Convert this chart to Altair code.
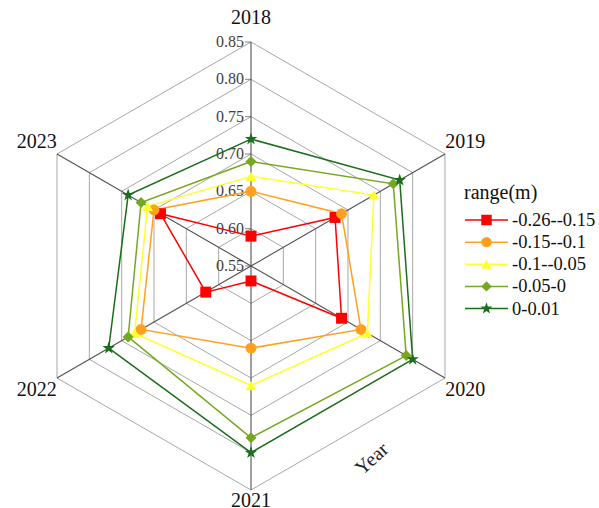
import altair as alt
import pandas as pd

# ---- data -------------------------------------------------------------
years = ["2018", "2019", "2020", "2021", "2022", "2023"]
series_names = ["-0.26--0.15", "-0.15--0.1", "-0.1--0.05", "-0.05-0", "0-0.01"]

range_1 = [0.59, 0.68, 0.69, 0.57, 0.62, 0.69]
range_2 = [0.65, 0.69, 0.72, 0.66, 0.72, 0.70]
range_3 = [0.67, 0.74, 0.73, 0.71, 0.73, 0.71]
range_4 = [0.69, 0.77, 0.79, 0.78, 0.74, 0.72]
range_5 = [0.72, 0.78, 0.80, 0.80, 0.77, 0.74]
series_values = [range_1, range_2, range_3, range_4, range_5]

ticks = [0.55, 0.60, 0.65, 0.70, 0.75, 0.80, 0.85]
tick_labels = ["0.55", "0.60", "0.65", "0.70", "0.75", "0.80", "0.85"]

colors = ["#ff0000", "#ffa11f", "#ffff2e", "#76a81e", "#1b6e1b"]
STAR = ("M0,-1.2L0.27,-0.37L1.14,-0.37L0.44,0.14L0.7,0.97L0,0.46"
        "L-0.7,0.97L-0.44,0.14L-1.14,-0.37L-0.27,-0.37Z")
shapes = ["square", "circle", "triangle-up", "diamond", STAR]

# ---- layout -----------------------------------------------------------
W, H = 599, 508
CX, CY, R = 251, 266, 224
R_MIN, R_MAX = ticks[0], ticks[-1]
FONT = "Liberation Serif"

xs = alt.Scale(domain=[-CX / R, (W - CX) / R], nice=False, zero=False)
ys = alt.Scale(domain=[-(H - CY) / R, CY / R], nice=False, zero=False)
X = alt.X("px:Q", scale=xs, axis=None)
Y = alt.Y("py:Q", scale=ys, axis=None)
color_scale = alt.Scale(domain=series_names, range=colors)
shape_scale = alt.Scale(domain=series_names, range=shapes)


def polar(chart):
    """Turn (k = spoke index, v = value) into cartesian px/py."""
    return chart.transform_calculate(
        ang="datum.k * PI / 3",
        rr=f"(datum.v - {R_MIN}) / ({R_MAX} - {R_MIN})",
    ).transform_calculate(
        px="datum.rr * sin(datum.ang)",
        py="datum.rr * cos(datum.ang)",
    )


# series rows, closed back to the first spoke
rows = []
for name, vals in zip(series_names, series_values):
    for k in range(len(years) + 1):
        rows.append({"series": name, "k": k, "v": vals[k % len(years)]})
series_df = pd.DataFrame(rows)

# hexagonal grid rings
grid_df = pd.DataFrame(
    [{"ring": t, "k": k, "v": t} for t in ticks[1:] for k in range(len(years) + 1)]
)
spoke_df = pd.DataFrame([{"k": k, "v": R_MAX, "year": y} for k, y in enumerate(years)])
tick_df = pd.DataFrame({"k": 0, "v": ticks, "label": tick_labels})
legend_df = pd.DataFrame({"series": series_names})

grid = polar(alt.Chart(grid_df)).mark_line(
    color="#a8a8a8", strokeWidth=1
).encode(x=X, y=Y, detail="ring:N", order="k:Q")

spokes = polar(alt.Chart(spoke_df)).transform_calculate(
    x0="0", y0="0"
).mark_rule(color="#505050", strokeWidth=1.1).encode(
    x=X, y=Y, x2="x0:Q", y2="y0:Q"
)

tick_marks = polar(alt.Chart(tick_df)).mark_tick(
    orient="horizontal", size=6, thickness=1, color="#505050", xOffset=-3
).encode(x=X, y=Y)

tick_text = polar(alt.Chart(tick_df)).mark_text(
    align="right", baseline="middle", dx=-7, fontSize=16, font=FONT, color="#404040"
).encode(x=X, y=Y, text="label:N")

year_text = alt.Chart(spoke_df).transform_calculate(
    ang="datum.k * PI / 3",
    lr="datum.year == '2021' ? 1.05 : 1.105",
).transform_calculate(
    px="datum.lr * sin(datum.ang)",
    py="datum.lr * cos(datum.ang)",
).mark_text(
    align="center", baseline="middle", fontSize=20, font=FONT, color="#111111"
).encode(x=X, y=Y, text="year:N")

axis_title = alt.Chart(legend_df.head(1)).mark_text(
    text="Year", angle=318, fontSize=20, font=FONT, color="#222222",
    align="center", baseline="middle"
).encode(x=alt.value(372), y=alt.value(459))

lines = polar(alt.Chart(series_df)).mark_line(strokeWidth=1.5).encode(
    x=X, y=Y, order="k:Q",
    color=alt.Color("series:N", scale=color_scale, legend=None),
)

points = polar(alt.Chart(series_df)).transform_filter(
    f"datum.k < {len(years)}"
).mark_point(filled=True, opacity=1, size=120).encode(
    x=X, y=Y,
    color=alt.Color("series:N", scale=color_scale, legend=None),
    shape=alt.Shape("series:N", scale=shape_scale, legend=None),
)

# ---- legend -----------------------------------------------------------
LY = alt.Y("series:N", axis=None,
           scale=alt.Scale(type="point", domain=series_names, range=[220, 308.5], padding=0))

leg_title = alt.Chart(legend_df.head(1)).mark_text(
    text="range(m)", align="left", baseline="middle", fontSize=20, font=FONT, color="#111111"
).encode(x=alt.value(464), y=alt.value(193))

leg_rule = alt.Chart(legend_df).mark_rule(strokeWidth=1.5).encode(
    x=alt.value(465), x2=alt.value(508), y=LY,
    color=alt.Color("series:N", scale=color_scale, legend=None),
)
leg_point = alt.Chart(legend_df).mark_point(filled=True, opacity=1, size=110).encode(
    x=alt.value(486.5), y=LY,
    color=alt.Color("series:N", scale=color_scale, legend=None),
    shape=alt.Shape("series:N", scale=shape_scale, legend=None),
)
leg_text = alt.Chart(legend_df).mark_text(
    align="left", baseline="middle", fontSize=18.5, font=FONT, color="#111111"
).encode(x=alt.value(512), y=LY, text="series:N")

chart = alt.layer(
    grid, spokes, tick_marks, tick_text, year_text, axis_title,
    lines, points, leg_title, leg_rule, leg_point, leg_text,
).resolve_scale(
    x="independent", y="independent"
).properties(
    width=W, height=H, padding=0,
    autosize=alt.AutoSizeParams(type="none"),
    background="white",
).configure_view(stroke=None)

chart.save("out.html", embed_options={"renderer": "svg", "actions": False})
